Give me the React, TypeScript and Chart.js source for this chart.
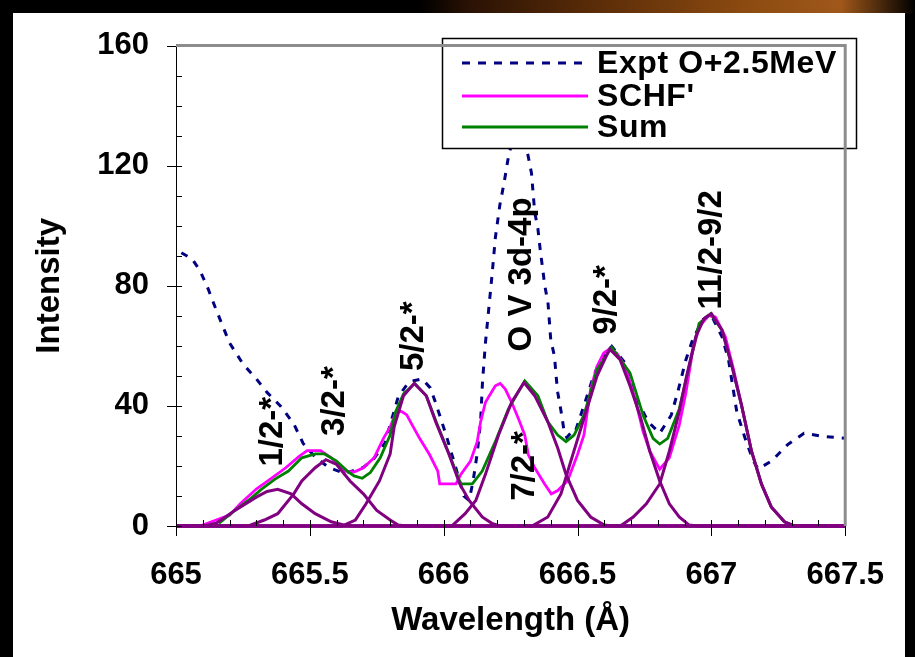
import React, { useEffect, useRef } from 'react';
import { Chart, registerables } from 'chart.js';

Chart.register(...registerables);

const FONT = "'Liberation Sans', Arial, Helvetica, sans-serif";

// Axis ticks
const xTickValues = [665, 665.5, 666, 666.5, 667, 667.5];
const xTickLabels = ['665', '665.5', '666', '666.5', '667', '667.5'];
const yTickValues = [0, 40, 80, 120, 160];
const yTickLabels = ['0', '40', '80', '120', '160'];

// Expt O+2.5MeV (dashed navy)
const exptX = [665.02, 665.06, 665.09, 665.12, 665.15, 665.2, 665.25, 665.3, 665.34, 665.39, 665.44, 665.475, 665.52, 665.57, 665.63, 665.7, 665.74, 665.78, 665.83, 665.87, 665.92, 665.95, 665.97, 666.01, 666.045, 666.075, 666.095, 666.11, 666.125, 666.138, 666.145, 666.156, 666.168, 666.18, 666.193, 666.21, 666.225, 666.24, 666.26, 666.28, 666.3, 666.316, 666.328, 666.34, 666.352, 666.36, 666.377, 666.39, 666.4, 666.414, 666.42, 666.426, 666.438, 666.45, 666.46, 666.475, 666.49, 666.536, 666.56, 666.586, 666.628, 666.678, 666.72, 666.764, 666.807, 666.85, 666.874, 666.905, 666.93, 666.966, 666.997, 667.04, 667.064, 667.095, 667.126, 667.157, 667.175, 667.224, 667.285, 667.346, 667.42, 667.5];
const exptY = [91, 89, 85, 79, 72, 61, 54, 49, 44.5, 40, 34, 27.5, 23, 19.5, 17.5, 19.5, 22.5, 27.5, 43, 48, 49, 46, 41, 30, 19.5, 10, 8.5, 15, 24, 35, 48, 61, 72, 83, 96, 107, 114, 122, 130, 134, 130, 123, 117.5, 104.5, 99, 92.5, 80.5, 74, 62, 56.5, 50, 44.5, 38.5, 31.5, 29.5, 31, 31, 43.4, 50, 55.4, 59.8, 54.3, 42.3, 34.7, 30.9, 36.9, 44.5, 55.4, 62, 68.5, 70.7, 63, 55.4, 38, 29.2, 21.6, 19, 21.6, 27.1, 30.9, 29.8, 29.2];

// SCHF' (magenta)
const schfX = [665.09, 665.15, 665.2, 665.24, 665.3, 665.36, 665.41, 665.46, 665.49, 665.54, 665.58, 665.63, 665.665, 665.7, 665.74, 665.775, 665.8, 665.825, 665.845, 665.862, 665.88, 665.91, 665.947, 665.978, 665.985, 666.046, 666.064, 666.1, 666.125, 666.138, 666.156, 666.193, 666.211, 666.23, 666.254, 666.279, 666.303, 666.316, 666.34, 666.377, 666.402, 666.426, 666.463, 666.5, 666.524, 666.549, 666.573, 666.598, 666.615, 666.647, 666.678, 666.715, 666.745, 666.77, 666.807, 666.843, 666.88, 666.905, 666.929, 666.954, 666.99, 667.015, 667.052, 667.083, 667.113, 667.15, 667.187, 667.224, 667.273, 667.31];
const schfY = [0, 2, 3.6, 7.4, 12.3, 16.1, 19.4, 23.2, 25.1, 25.1, 22.7, 18.3, 18, 19.4, 22.7, 29.2, 33, 38.5, 38, 37, 34, 29.2, 23.8, 18.3, 14, 14, 17.2, 21.6, 28, 34.7, 41.2, 46.7, 47.5, 45.6, 41.2, 35.8, 30.3, 23.8, 19.4, 14, 10.7, 11.8, 15.1, 23.8, 30.3, 45.6, 53.2, 57.6, 58.7, 57.6, 53.2, 42.3, 31.4, 24.9, 18.9, 22.7, 33.6, 44.5, 57.6, 66.3, 70.1, 69.6, 63.1, 52.1, 40.1, 24.9, 14, 6.3, 1.4, 0];

// Sum (green)
const sumX = [665.16, 665.22, 665.27, 665.32, 665.37, 665.42, 665.47, 665.52, 665.555, 665.6, 665.64, 665.665, 665.696, 665.726, 665.763, 665.8, 665.82, 665.85, 665.892, 665.935, 665.972, 666.021, 666.064, 666.107, 666.144, 666.193, 666.242, 666.303, 666.352, 666.389, 666.426, 666.457, 666.487, 666.524, 666.573, 666.628, 666.696, 666.745, 666.782, 666.807, 666.837, 666.88, 666.917, 666.954, 666.997, 667.04, 667.077, 667.113, 667.15, 667.187, 667.224, 667.273, 667.31];
const sumY = [0.9, 5.2, 8.5, 12.3, 15.6, 18.3, 22.7, 24, 24, 21.6, 18.3, 16.7, 15.9, 17.8, 22.7, 30.3, 38, 44, 47.5, 43.4, 34.7, 23.8, 14, 14, 18.3, 28.1, 39, 48.3, 43.4, 34.7, 30.3, 28.1, 30.3, 36.9, 52.1, 59.5, 51, 36.9, 29.2, 27.3, 29.2, 39, 53.2, 67.4, 70.7, 65.2, 53.2, 40.1, 24.9, 14, 6.3, 1.4, 0];

// Component peaks (purple)
const c1X = [665, 665.1, 665.15, 665.22, 665.3, 665.34, 665.38, 665.43, 665.47, 665.52, 665.58, 665.63, 665.66, 667.5];
const c1Y = [0, 0, 0.9, 5.2, 9.6, 11.5, 12.2, 10.7, 7.4, 4.1, 1.4, 0.3, 0, 0];
const c2X = [665, 665.27, 665.33, 665.38, 665.44, 665.47, 665.52, 665.56, 665.6, 665.65, 665.7, 665.75, 665.8, 665.83, 665.86, 667.5];
const c2Y = [0, 0, 2, 4.1, 10.7, 15, 19.4, 22.1, 20.5, 15, 10.7, 5.2, 2, 0.3, 0, 0];
const c3X = [665, 665.62, 665.67, 665.71, 665.76, 665.8, 665.815, 665.85, 665.89, 665.935, 665.97, 666.02, 666.06, 666.095, 666.144, 666.18, 666.21, 667.5];
const c3Y = [0, 0, 2, 7.4, 15, 24, 33, 43.4, 47.5, 43.4, 34.7, 23.8, 14, 8.5, 3, 0.9, 0, 0];
const c4X = [665, 666.03, 666.08, 666.12, 666.156, 666.205, 666.254, 666.3, 666.34, 666.389, 666.426, 666.457, 666.5, 666.549, 666.6, 666.63, 667.5];
const c4Y = [0, 0, 4.1, 8.5, 17.2, 30.3, 41.2, 47.8, 43.4, 34.7, 26, 17.2, 8.5, 3, 0.3, 0, 0];
const c5X = [665, 666.33, 666.389, 666.438, 666.475, 666.524, 666.573, 666.62, 666.659, 666.696, 666.733, 666.77, 666.807, 666.843, 666.88, 666.917, 666.95, 667.5];
const c5Y = [0, 0, 3, 10.7, 21.6, 35.8, 50, 59, 55.4, 46.7, 36.9, 24.9, 15, 7.4, 3, 0.3, 0, 0];
const c6X = [665, 666.66, 666.708, 666.757, 666.807, 666.843, 666.88, 666.905, 666.942, 666.972, 667, 667.04, 667.077, 667.113, 667.15, 667.187, 667.224, 667.273, 667.31, 667.5];
const c6Y = [0, 0, 3, 7.4, 14, 24.9, 38, 48.9, 63.1, 69, 70.7, 65.2, 53.2, 40.1, 24.9, 14, 6.3, 1.4, 0, 0];

// Legend and peak labels
const legendLabels = ['Expt O+2.5MeV', "SCHF'", 'Sum'];
const annotTexts = ['1/2-*', '3/2-*', '5/2-*', 'O V 3d-4p', '7/2-*', '9/2-*', '11/2-9/2'];
const annotX = [665.361, 665.593, 665.887, 666.292, 666.303, 666.609, 667.003];
const annotY = [31.4, 41.6, 63.2, 83.8, 20, 75.3, 92];

const NAVY = '#000080';
const MAGENTA = '#ff00ff';
const GREEN = '#008000';
const PURPLE = '#800080';

const pts = (xs: number[], ys: number[]) => xs.map((x, i) => ({ x, y: ys[i] }));

const overlayPlugin = {
  id: 'overlay',
  afterDraw(chart: any) {
    const { ctx, chartArea: a, scales } = chart;
    const xs = scales.x;
    const ys = scales.y;
    ctx.save();

    // peak labels (rotated)
    ctx.fillStyle = '#000';
    ctx.font = `bold 33px ${FONT}`;
    ctx.textAlign = 'center';
    ctx.textBaseline = 'middle';
    annotTexts.forEach((t, i) => {
      const px = xs.getPixelForValue(annotX[i]);
      const py = ys.getPixelForValue(annotY[i]);
      ctx.save();
      ctx.translate(px, py);
      ctx.rotate(-Math.PI / 2);
      ctx.fillText(t, 0, 0);
      ctx.restore();
    });

    // tick marks
    ctx.strokeStyle = '#000';
    ctx.lineWidth = 1;
    for (let k = 0; k <= 25; k++) {
      const v = 665 + k * 0.1;
      const px = Math.round(xs.getPixelForValue(v)) + 0.5;
      const major = k % 5 === 0;
      ctx.beginPath();
      ctx.moveTo(px, a.bottom - 6);
      ctx.lineTo(px, a.bottom + (major ? 10 : 0));
      ctx.stroke();
    }
    for (let k = 0; k <= 16; k++) {
      const v = k * 10;
      const py = Math.round(ys.getPixelForValue(v)) + 0.5;
      const major = k % 4 === 0;
      ctx.beginPath();
      ctx.moveTo(a.left - (major ? 9 : 0), py);
      ctx.lineTo(a.left + 6, py);
      ctx.stroke();
    }

    // legend box
    const lx = 442, ly = 38, lw = 414, lh = 110;
    ctx.fillStyle = '#fff';
    ctx.fillRect(lx, ly, lw, lh);
    ctx.strokeStyle = '#000';
    ctx.lineWidth = 1.5;
    ctx.strokeRect(lx + 0.5, ly + 0.5, lw, lh);
    const rows = [63, 96, 127];
    const colors = [NAVY, MAGENTA, GREEN];
    legendLabels.forEach((t, i) => {
      ctx.beginPath();
      ctx.strokeStyle = colors[i];
      ctx.lineWidth = 3;
      ctx.setLineDash(i === 0 ? [8, 8] : []);
      ctx.moveTo(462, rows[i]);
      ctx.lineTo(588, rows[i]);
      ctx.stroke();
      ctx.setLineDash([]);
      ctx.fillStyle = '#000';
      ctx.font = `bold 32px ${FONT}`;
      ctx.textAlign = 'left';
      ctx.textBaseline = 'middle';
      try { (ctx as any).letterSpacing = '0.6px'; } catch (e) { /* ignore */ }
      ctx.fillText(t, 597, rows[i] + 1);
      try { (ctx as any).letterSpacing = '0px'; } catch (e) { /* ignore */ }
    });

    // grey plot frame (top and right)
    ctx.strokeStyle = '#8c8c8c';
    ctx.lineWidth = 3;
    ctx.beginPath();
    ctx.moveTo(a.left, a.top);
    ctx.lineTo(a.right, a.top);
    ctx.lineTo(a.right, a.bottom);
    ctx.stroke();
    ctx.restore();
  },
};

export default function App() {
  const ref = useRef<HTMLCanvasElement | null>(null);
  useEffect(() => {
    document.body.style.margin = '0';
    const canvas = ref.current;
    if (!canvas) return;
    const comps = [
      [c1X, c1Y], [c2X, c2Y], [c3X, c3Y], [c4X, c4Y], [c5X, c5Y], [c6X, c6Y],
    ].map(([xs, ys], i) => ({
      label: 'comp' + (i + 1),
      data: pts(xs as number[], ys as number[]),
      borderColor: PURPLE,
      borderWidth: 3,
      order: 0,
    }));
    const chart = new Chart(canvas, {
      type: 'line',
      data: {
        datasets: [
          ...comps,
          { label: legendLabels[2], data: pts(sumX, sumY), borderColor: GREEN, borderWidth: 2.8, order: 1 },
          { label: legendLabels[1], data: pts(schfX, schfY), borderColor: MAGENTA, borderWidth: 2.8, order: 2 },
          { label: legendLabels[0], data: pts(exptX, exptY), borderColor: NAVY, borderWidth: 3, borderDash: [7, 8], order: 3 },
        ] as any,
      },
      options: {
        animation: false,
        responsive: false,
        maintainAspectRatio: false,
        layout: { padding: { left: 0, right: 60, top: 37, bottom: 0 } },
        datasets: { line: { pointRadius: 0, tension: 0, fill: false, clip: 4 } } as any,
        plugins: { legend: { display: false }, tooltip: { enabled: false } },
        scales: {
          x: {
            type: 'linear',
            min: 665,
            max: 667.5,
            afterBuildTicks: (s: any) => { s.ticks = xTickValues.map((v) => ({ value: v })); },
            afterFit: (s: any) => { s.height = 131; },
            ticks: {
              callback: (_v: any, i: number) => xTickLabels[i],
              font: { family: FONT, size: 31, weight: 'bold' },
              color: '#000',
              padding: 31,
              maxRotation: 0,
              autoSkip: false,
            },
            grid: { display: false, drawTicks: false },
            border: { display: true, color: '#000', width: 1 },
            title: {
              display: true,
              text: 'Wavelength (Å)',
              font: { family: FONT, size: 33, weight: 'bold' },
              color: '#000',
              padding: { top: 0, bottom: 16 },
            },
          },
          y: {
            type: 'linear',
            min: 0,
            max: 160,
            afterBuildTicks: (s: any) => { s.ticks = yTickValues.map((v) => ({ value: v })); },
            afterFit: (s: any) => { s.width = 176; },
            ticks: {
              callback: (_v: any, i: number) => yTickLabels[i],
              font: { family: FONT, size: 31, weight: 'bold' },
              color: '#000',
              padding: 27,
            },
            grid: { display: false, drawTicks: false },
            border: { display: true, color: '#000', width: 1 },
            title: {
              display: true,
              text: 'Intensity',
              font: { family: FONT, size: 33, weight: 'bold' },
              color: '#000',
              padding: { top: 30, bottom: 0 },
            },
          },
        },
      } as any,
      plugins: [overlayPlugin],
    });
    return () => chart.destroy();
  }, []);

  return (
    <div style={{ position: 'relative', width: 915, height: 657, background: '#000', overflow: 'hidden' }}>
      <div
        style={{
          position: 'absolute', left: 420, top: 0, width: 495, height: 14,
          background: 'linear-gradient(90deg, #000 0%, #2a1204 10%, #5a2c08 35%, #8a4a10 65%, #a0581a 85%, #000 100%)',
        }}
      />
      <div style={{ position: 'absolute', left: 13, top: 13, width: 892, height: 644, background: '#fff' }} />
      <canvas ref={ref} width={915} height={657} style={{ position: 'absolute', left: 0, top: 0 }} />
    </div>
  );
}
